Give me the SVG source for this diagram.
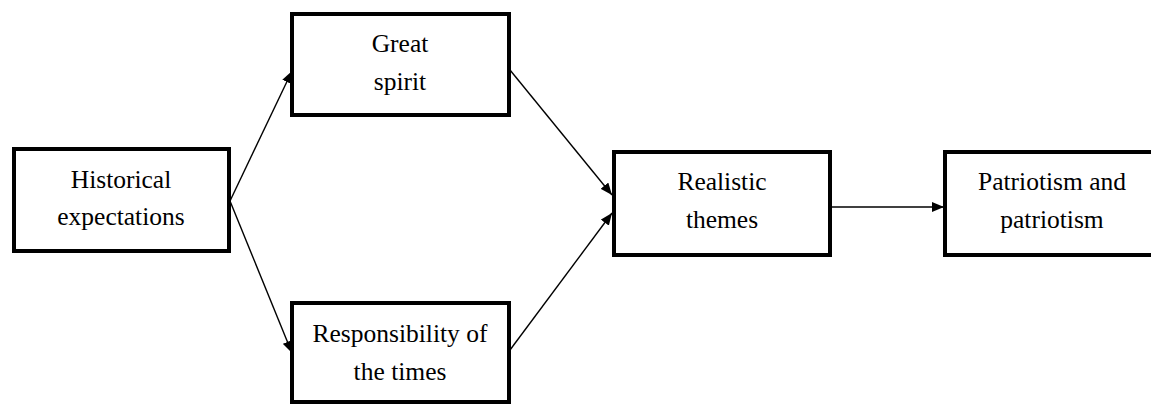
<svg xmlns="http://www.w3.org/2000/svg" width="1151" height="405" viewBox="0 0 1151 405">
  <style>
    .box { fill: #ffffff; stroke: #000000; stroke-width: 4; }
    text { font-family: 'Liberation Serif', 'Times New Roman', Times, serif; font-size: 25.5px; fill: #000000; text-anchor: middle; }
    .edge { fill: none; stroke: #000000; stroke-width: 1.4; marker-end: url(#arrow); }
  </style>
  <defs>
    <marker id="arrow" markerWidth="12" markerHeight="10" refX="12" refY="5" orient="auto" markerUnits="userSpaceOnUse">
      <path d="M0,0 L12,5 L0,10 Z" fill="#000000"/>
    </marker>
  </defs>
  <rect width="1151" height="405" fill="#ffffff"/>

  <g id="connectors">
    <line class="edge" x1="230" y1="201" x2="292" y2="71"/>
    <line class="edge" x1="230" y1="201" x2="292" y2="353"/>
    <line class="edge" x1="510" y1="70" x2="612" y2="195"/>
    <line class="edge" x1="510" y1="350" x2="612" y2="213"/>
    <line class="edge" x1="832" y1="207" x2="944" y2="207"/>
  </g>

  <g id="historical-expectations">
    <rect class="box" x="14" y="149" width="215" height="102"/>
    <text x="121" y="188">Historical</text>
    <text x="121" y="225">expectations</text>
  </g>

  <g id="great-spirit">
    <rect class="box" x="292" y="14" width="217" height="101"/>
    <text x="400" y="52">Great</text>
    <text x="400" y="90">spirit</text>
  </g>

  <g id="responsibility-of-the-times">
    <rect class="box" x="292" y="303" width="217" height="99"/>
    <text x="400" y="342">Responsibility of</text>
    <text x="400" y="380">the times</text>
  </g>

  <g id="realistic-themes">
    <rect class="box" x="614" y="152" width="216" height="103"/>
    <text x="722" y="190">Realistic</text>
    <text x="722" y="228">themes</text>
  </g>

  <g id="patriotism-and-patriotism">
    <rect class="box" x="945" y="152" width="220" height="103"/>
    <text x="1052" y="190">Patriotism and</text>
    <text x="1052" y="228">patriotism</text>
  </g>
</svg>
